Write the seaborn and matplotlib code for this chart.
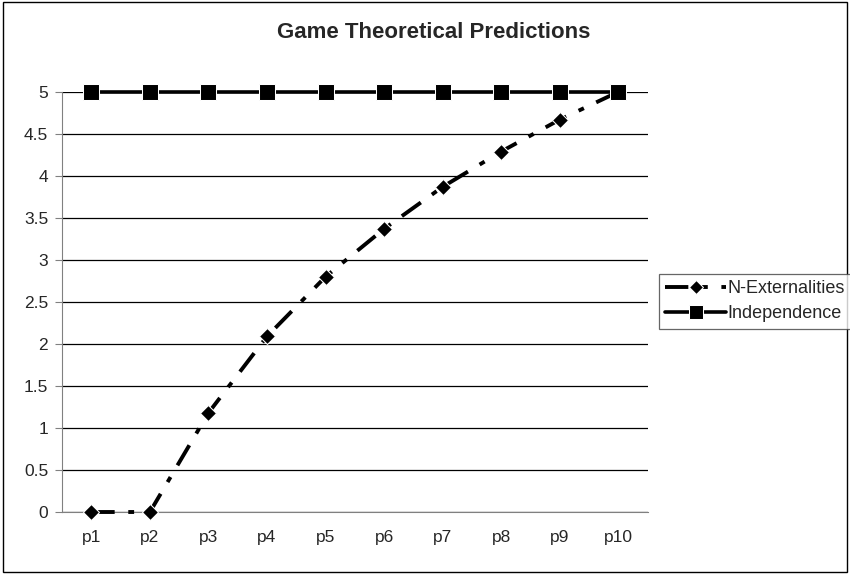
import numpy as np
import pandas as pd
import matplotlib
matplotlib.use("Agg")
import matplotlib.pyplot as plt
import seaborn as sns

periods = ["p1", "p2", "p3", "p4", "p5", "p6", "p7", "p8", "p9", "p10"]
n_externalities = [0, 0, 1.18, 2.09, 2.80, 3.37, 3.87, 4.29, 4.67, 5.0]
independence = [5, 5, 5, 5, 5, 5, 5, 5, 5, 5]

df = pd.DataFrame({"Period": periods,
                   "N-Externalities": n_externalities,
                   "Independence": independence})

sns.set_style("white")
plt.rcParams["font.family"] = ["Liberation Sans", "DejaVu Sans"]

fig = plt.figure(figsize=(8.5, 5.74), dpi=100)
ax = fig.add_axes([0.073, 0.108, 0.689, 0.732])

sns.lineplot(data=df, x="Period", y="N-Externalities", ax=ax, sort=False,
             color="black", linewidth=2.8, marker="D", markersize=8,
             linestyle=(0, (6, 3.5, 1.5, 3.5)), label="N-Externalities",
             clip_on=False, zorder=3)
sns.lineplot(data=df, x="Period", y="Independence", ax=ax, sort=False,
             color="black", linewidth=2.6, marker="s", markersize=11,
             label="Independence", clip_on=False, zorder=4)

ax.set_xlim(-0.5, len(periods) - 0.5)
ax.set_ylim(0, 5)
ax.set_yticks(np.arange(0, 5.01, 0.5))
ax.set_yticklabels(["0", "0.5", "1", "1.5", "2", "2.5", "3", "3.5", "4", "4.5", "5"])
ax.set_xticks(range(len(periods)))
ax.set_xticklabels(periods)
ax.set_xticks(np.arange(-0.5, len(periods), 1), minor=True)
ax.tick_params(axis="x", which="major", length=0, pad=13, labelsize=12.5)
ax.tick_params(axis="x", which="minor", length=5, color="#808080", direction="out")
ax.tick_params(axis="y", length=5, color="#808080", direction="out", labelsize=12.5,
               left=True, pad=5)
ax.grid(axis="y", color="black", linewidth=0.9)
ax.set_axisbelow(True)
for s in ["top", "right"]:
    ax.spines[s].set_visible(False)
for s in ["left", "bottom"]:
    ax.spines[s].set_color("#808080")
ax.set_xlabel("")
ax.set_ylabel("")

ax.legend_.remove()
h, l = ax.get_legend_handles_labels()
leg = fig.legend(h, l, loc="center left", bbox_to_anchor=(0.775, 0.475),
                 frameon=True, fancybox=False, edgecolor="#404040",
                 fontsize=13, handlelength=3.4, handletextpad=0.05,
                 borderpad=0.35, labelspacing=0.45, borderaxespad=0)
leg.get_frame().set_linewidth(0.9)
for lh in leg.legend_handles:
    if lh.get_marker() == "D":
        lh.set_markersize(7)
    else:
        lh.set_markersize(10)

fig.text(0.51, 0.943, "Game Theoretical Predictions", ha="center", va="center",
         fontsize=16, fontweight="bold")

fig.patches.append(plt.Rectangle((0.004, 0.004), 0.992, 0.992, transform=fig.transFigure,
                                 fill=False, edgecolor="black", linewidth=1))

fig.savefig("out.png", dpi=100)
